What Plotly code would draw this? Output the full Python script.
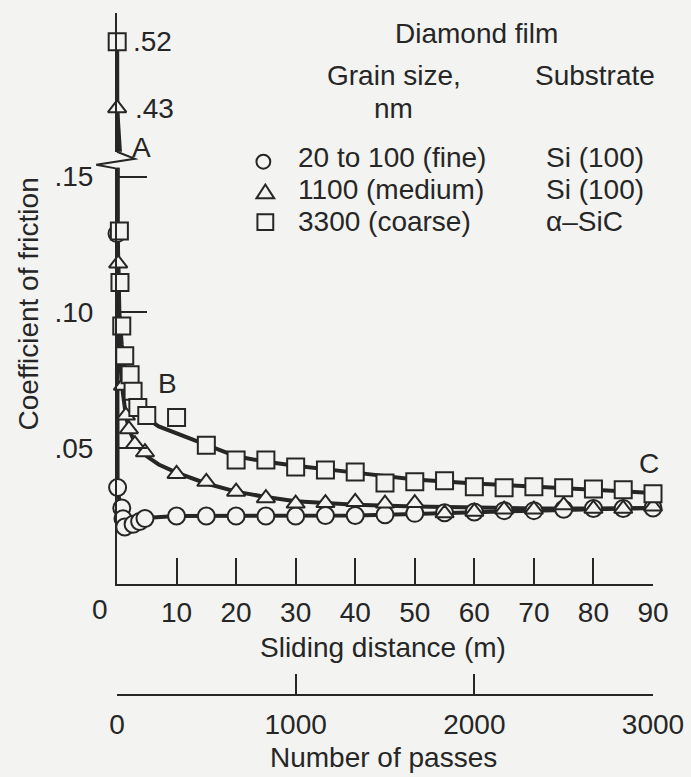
import plotly.graph_objects as go

# ---------------- data ----------------
# fine grain (circles)
fine_x = [0.0, 0.1, 0.8, 1.0, 1.3, 2.7, 3.8, 4.7, 10, 15, 20, 25, 30, 35, 40, 45, 50, 55, 60, 65, 70, 75, 80, 85, 90]
fine_y = [0.129, 0.0355, 0.028, 0.024, 0.021, 0.022, 0.023, 0.0241, 0.0250, 0.0250, 0.0250, 0.0250, 0.0250, 0.0252,
          0.0252, 0.0255, 0.0260, 0.0262, 0.0265, 0.0270, 0.0270, 0.0275, 0.0278, 0.0278, 0.0280]
# medium grain (triangles)
med_x = [0.03, 0.2, 1.0, 1.5, 2.0, 3.0, 4.7, 10, 15, 20, 25, 30, 35, 40, 45, 50, 55, 60, 65, 70, 75, 80, 85, 90]
med_y = [0.43, 0.118, 0.073, 0.062, 0.057, 0.0515, 0.0485, 0.0405, 0.0376, 0.034, 0.0316, 0.0296, 0.0298, 0.0302,
         0.0296, 0.0298, 0.026, 0.0266, 0.0274, 0.0274, 0.029, 0.0277, 0.0277, 0.0285]
# coarse grain (squares)
coarse_x = [0.03, 0.4, 0.5, 0.8, 1.3, 2.2, 2.7, 3.5, 5.0, 10, 15, 20, 25, 30, 35, 40, 45, 50, 55, 60, 65, 70, 75, 80, 85, 90]
coarse_y = [0.52, 0.130, 0.111, 0.095, 0.084, 0.077, 0.071, 0.065, 0.062, 0.0613, 0.0511, 0.0456, 0.0456, 0.0431,
            0.0420, 0.0412, 0.0372, 0.0376, 0.0380, 0.0358, 0.0354, 0.0358, 0.0354, 0.0350, 0.0347, 0.0332]

# fitted curves
fine_cx = [0.03, 0.05, 0.1, 0.5, 1.0, 1.5, 2.5, 4, 6, 10, 20, 30, 40, 50, 60, 70, 80, 90]
fine_cy = [0.130, 0.060, 0.0355, 0.029, 0.024, 0.0215, 0.022, 0.0235, 0.0245, 0.0250, 0.0250, 0.0250, 0.0252,
           0.0258, 0.0265, 0.0270, 0.0275, 0.0280]
med_cx = [0.03, 0.1, 0.3, 0.6, 1.0, 1.5, 2.0, 3.0, 5, 7, 10, 15, 20, 25, 30, 40, 50, 60, 70, 80, 90]
med_cy = [0.43, 0.13, 0.100, 0.080, 0.070, 0.062, 0.057, 0.052, 0.047, 0.044, 0.041, 0.037, 0.034, 0.032, 0.0305,
          0.0292, 0.0285, 0.0280, 0.0278, 0.0278, 0.0280]
coarse_cx = [0.03, 0.1, 0.4, 0.8, 1.3, 2.0, 3.0, 5, 7, 10, 15, 20, 25, 30, 40, 50, 60, 70, 80, 90]
coarse_cy = [0.52, 0.13, 0.100, 0.088, 0.080, 0.073, 0.067, 0.061, 0.058, 0.0555, 0.051, 0.047, 0.045, 0.0435,
             0.041, 0.0385, 0.0370, 0.0357, 0.0347, 0.0335]

x_ticks = [0, 10, 20, 30, 40, 50, 60, 70, 80, 90]
pass_ticks = [0, 1000, 2000, 3000]
y_ticks = [0.05, 0.10, 0.15]
y_ticktext = [".05", ".10", ".15"]

legend_grain = ["20 to 100 (fine)", "1100 (medium)", "3300 (coarse)"]
legend_sub = ["Si (100)", "Si (100)", "\u03b1\u2013SiC"]

# ---------------- layout geometry (pixels) ----------------
W, H = 691, 777
L, R, T, B = 117, 659, 7, 695
PW, PH = R - L, B - T


def px(xp):
    return (xp - L) / PW


def py(yp):
    return (B - yp) / PH


LOW_BOT, LOW_TOP = 583, 163       # lower y segment in px
LOW_SCALE = 2740.0                # px per unit
UP_BOT, UP_TOP = 147, T
UP_SCALE = 744.0
low_range = [0, (LOW_BOT - LOW_TOP) / LOW_SCALE]
up_range = [0.43 - (UP_BOT - 103) / UP_SCALE, 0.52 + (36 - UP_TOP) / UP_SCALE]

BG = "#f3f3f1"
INK = "#262626"
FONT = "Liberation Sans"

fig = go.Figure()

series = [
    (fine_x, fine_y, fine_cx, fine_cy, "circle", 17),
    (med_x, med_y, med_cx, med_cy, "triangle-up", 16),
    (coarse_x, coarse_y, coarse_cx, coarse_cy, "square", 17),
]

# curves in both subplots (clipped by each)
for xs, ys, cx, cy, sym, sz in series:
    for ya in ["y", "y2"]:
        fig.add_trace(go.Scatter(x=cx, y=cy, mode="lines", yaxis=ya,
                                 line=dict(color=INK, width=4), showlegend=False, hoverinfo="skip"))

# markers: each point goes into the subplot whose range holds it
for xs, ys, cx, cy, sym, sz in series:
    for ya, rng in [("y", low_range), ("y2", up_range)]:
        sx = [a for a, b in zip(xs, ys) if rng[0] <= b <= rng[1]]
        sy = [b for a, b in zip(xs, ys) if rng[0] <= b <= rng[1]]
        if not sx:
            continue
        fig.add_trace(go.Scatter(x=sx, y=sy, mode="markers", yaxis=ya, cliponaxis=False,
                                 marker=dict(symbol=sym, size=sz, color=BG,
                                             line=dict(color=INK, width=2)),
                                 showlegend=False))

# dummy trace to materialise the passes axis
fig.add_trace(go.Scatter(x=[0, 3000], y=[None, None], xaxis="x2", yaxis="y",
                         mode="markers", showlegend=False, hoverinfo="skip"))

tickfont = dict(family=FONT, size=28, color=INK)

fig.update_layout(
    width=W, height=H,
    margin=dict(l=L, r=W - R, t=T, b=H - B),
    paper_bgcolor=BG, plot_bgcolor=BG,
    showlegend=False,
    xaxis=dict(range=[0, 90], domain=[0, 1], anchor="y",
               tickvals=x_ticks, ticktext=[""] + [str(v) for v in x_ticks[1:]],
               ticks="inside", ticklen=26, tickwidth=2, tickcolor=INK,
               showline=True, linecolor=INK, linewidth=2,
               showgrid=False, zeroline=False, tickfont=tickfont, ticklabelstandoff=2),
    xaxis2=dict(range=[0, 3000], domain=[0, 1], anchor="free", position=0, overlaying="x",
                side="bottom", tickvals=pass_ticks, ticktext=[str(v) for v in pass_ticks],
                ticks="inside", ticklen=20, tickwidth=2, tickcolor=INK,
                showline=True, linecolor=INK, linewidth=2,
                showgrid=False, zeroline=False, tickfont=tickfont, ticklabelstandoff=4),
    yaxis=dict(range=low_range, domain=[py(LOW_BOT), py(LOW_TOP)], anchor="x",
               tickvals=y_ticks, ticktext=y_ticktext,
               ticks="inside", ticklen=30, tickwidth=2, tickcolor=INK,
               showline=True, linecolor=INK, linewidth=2,
               showgrid=False, zeroline=False, tickfont=tickfont, ticklabelstandoff=16),
    yaxis2=dict(range=up_range, domain=[py(UP_BOT), 1], anchor="x",
                showticklabels=False, ticks="",
                showline=True, linecolor=INK, linewidth=2,
                showgrid=False, zeroline=False),
)

ann = []


def text(t, x, y, size=28, xanchor="center", angle=0):
    ann.append(dict(text=t, x=px(x), y=py(y), xref="paper", yref="paper",
                    xanchor=xanchor, yanchor="middle", showarrow=False, textangle=angle,
                    font=dict(family=FONT, size=size, color=INK)))


text("Coefficient of friction", 27, 300, angle=-90)
text("Sliding distance (m)", 386, 647)
text("Number of passes", 386, 758)
text("0", 100, 609)
text("Diamond film", 481, 28)
text("Grain size,", 397, 70)
text("Substrate", 600, 70)
text("nm", 397, 103)
rows_y = [153, 185, 217]
for g, s, yy in zip(legend_grain, legend_sub, rows_y):
    text(g, 298, yy, xanchor="left")
    text(s, 549, yy, xanchor="left")
text("A", 142, 143)
text("B", 168, 381)
text("C", 655, 461)

# value labels on the upper segment
for v, shift in [(coarse_y[0], 14), (med_y[0], 16)]:
    ann.append(dict(text="." + f"{v:.2f}".split(".")[1], x=0, y=v, xref="x", yref="y2",
                    xanchor="left", yanchor="middle", xshift=shift, showarrow=False,
                    font=dict(family=FONT, size=28, color=INK)))

fig.update_layout(annotations=ann)

shapes = []
# axis break zigzag
zz = [(117, 147), (135, 154), (96, 160), (117, 164)]
path = "M " + " L ".join(f"{px(a)},{py(b)}" for a, b in zz)
shapes.append(dict(type="path", path=path, xref="paper", yref="paper",
                   line=dict(color=INK, width=2)))
# legend symbols
r = 7
shapes.append(dict(type="circle", xref="paper", yref="paper",
                   x0=px(265 - r), x1=px(265 + r), y0=py(157 + r), y1=py(157 - r),
                   line=dict(color=INK, width=2)))
tri = [(258, 194), (276, 194), (267, 180)]
shapes.append(dict(type="path", xref="paper", yref="paper",
                   path="M " + " L ".join(f"{px(a)},{py(b)}" for a, b in tri) + " Z",
                   line=dict(color=INK, width=2)))
shapes.append(dict(type="rect", xref="paper", yref="paper",
                   x0=px(259), x1=px(275), y0=py(226), y1=py(210),
                   line=dict(color=INK, width=2)))
fig.update_layout(shapes=shapes)

fig.write_html("out.html")
